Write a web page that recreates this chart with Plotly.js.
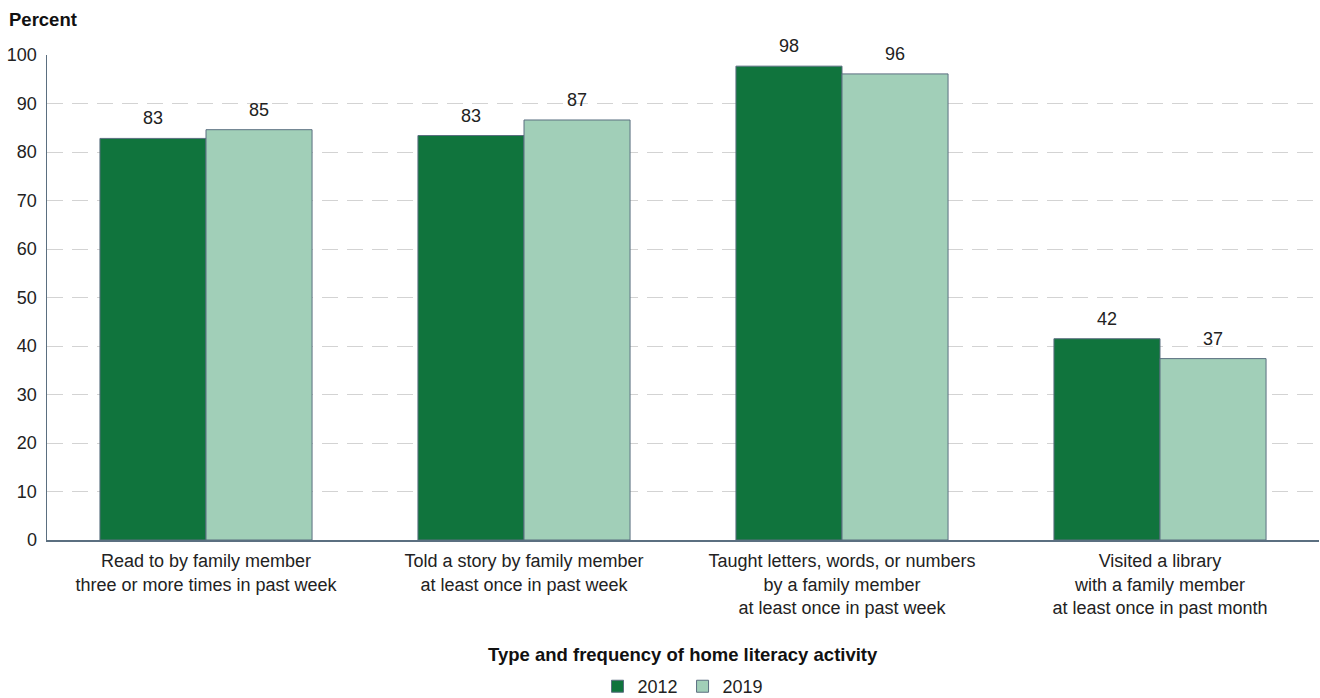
<!DOCTYPE html>
<html>
<head>
<meta charset="utf-8">
<script src="https://cdn.plot.ly/plotly-3.0.1.min.js"></script>
<style>html,body{margin:0;padding:0;background:#fff;}#chart{width:1320px;height:698px;}</style>
</head>
<body>
<div id="chart"></div>
<script>
const categories = [
  "Read to by family member<br>three or more times in past week",
  "Told a story by family member<br>at least once in past week",
  "Taught letters, words, or numbers<br>by a family member<br>at least once in past week",
  "Visited a library<br>with a family member<br>at least once in past month"
];
const values2012 = [82.8, 83.4, 97.7, 41.5];
const values2019 = [84.6, 86.6, 96.1, 37.4];
const labels2012 = ["83", "83", "98", "42"];
const labels2019 = ["85", "87", "96", "37"];
const yTicks = [0, 10, 20, 30, 40, 50, 60, 70, 80, 90, 100];

const FONT = 'Liberation Sans, Arial, sans-serif';
const edge = '#5b6f80';
const traces = [
  {type: 'bar', name: '2012', x: categories, y: values2012,
   marker: {color: '#10743d', line: {color: edge, width: 1}}, hoverinfo: 'skip'},
  {type: 'bar', name: '2019', x: categories, y: values2019,
   marker: {color: '#a1cfb8', line: {color: edge, width: 1}}, hoverinfo: 'skip'}
];

const annotations = [];
categories.forEach((c, i) => {
  annotations.push({x: c, y: values2012[i], xref: 'x', yref: 'y', text: labels2012[i],
    showarrow: false, yanchor: 'bottom', xshift: -53, yshift: 8,
    font: {family: FONT, size: 18, color: '#222'}});
  annotations.push({x: c, y: values2019[i], xref: 'x', yref: 'y', text: labels2019[i],
    showarrow: false, yanchor: 'bottom', xshift: 53, yshift: 8,
    font: {family: FONT, size: 18, color: '#222'}});
});
annotations.push({x: 0, y: 1, xref: 'paper', yref: 'paper', xanchor: 'left', yanchor: 'bottom',
  text: '<b>Percent</b>', showarrow: false, xshift: -40, yshift: 23,
  font: {family: FONT, size: 18.5, color: '#111'}});
annotations.push({x: 0.5, y: 0, xref: 'paper', yref: 'paper', xanchor: 'center', yanchor: 'top',
  text: '<b>Type and frequency of home literacy activity</b>', showarrow: false, yshift: -102,
  font: {family: FONT, size: 18.5, color: '#111'}});

const layout = {
  width: 1320, height: 698,
  margin: {l: 47, r: 1, t: 55, b: 158, autoexpand: false},
  paper_bgcolor: '#fff', plot_bgcolor: '#fff',
  barmode: 'group', bargap: 0.333, bargroupgap: 0,
  font: {family: FONT, size: 18, color: '#222'},
  xaxis: {
    type: 'category', showline: true, linecolor: edge, linewidth: 1.5,
    ticks: '', showgrid: false, zeroline: false, automargin: false,
    tickfont: {size: 18, color: '#222'}, ticklabelstandoff: 4
  },
  yaxis: {
    range: [0, 100], tickvals: yTicks, ticktext: yTicks.map(String), automargin: false,
    showline: true, linecolor: edge, linewidth: 1.5, ticks: '',
    showgrid: true, gridcolor: '#d3d3d3', griddash: '16px,9px', gridwidth: 1,
    zeroline: false, tickfont: {size: 18, color: '#222'}, ticklabelstandoff: 5
  },
  legend: {orientation: 'h', x: 0.5, xanchor: 'center', y: -0.264, yanchor: 'top',
    font: {size: 18, color: '#222'}, traceorder: 'normal'},
  annotations: annotations,
  showlegend: true
};

Plotly.newPlot('chart', traces, layout, {displayModeBar: false, staticPlot: true});
</script>
</body>
</html>
